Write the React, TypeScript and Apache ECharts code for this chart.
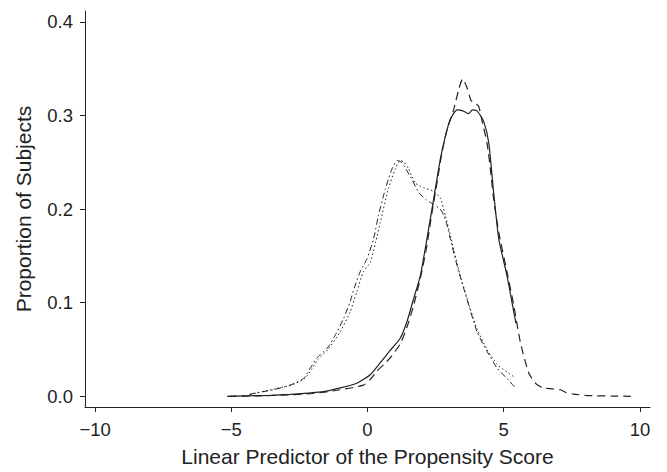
import React, { useEffect, useRef } from "react";
import * as echarts from "echarts";

const xTicks = [-10, -5, 0, 5, 10];
const yTicks = [0, 0.1, 0.2, 0.3, 0.4];

const solidCurve: number[][] = [
  [-5.15, 0.0], [-4.5, 0.0005], [-3.5, 0.001], [-2.84, 0.002], [-2.2, 0.0035], [-1.62, 0.005],
  [-1.0, 0.009], [-0.39, 0.014], [0.1, 0.023], [0.47, 0.036], [0.83, 0.049], [1.2, 0.062],
  [1.45, 0.08], [1.69, 0.104], [1.94, 0.129], [2.18, 0.168], [2.43, 0.211], [2.67, 0.253],
  [2.86, 0.278], [3.04, 0.296], [3.29, 0.306], [3.5, 0.305], [3.71, 0.302], [3.85, 0.306],
  [4.02, 0.305], [4.26, 0.294], [4.45, 0.271], [4.63, 0.218], [4.82, 0.168], [5.12, 0.129],
  [5.37, 0.09], [5.45, 0.078],
];

const dashedCurve: number[][] = [
  [-5.1, 0.0], [-4.0, 0.0005], [-3.0, 0.0015], [-2.0, 0.003], [-1.0, 0.007], [-0.15, 0.012],
  [0.1, 0.018], [0.35, 0.027], [0.6, 0.034], [0.83, 0.041], [1.2, 0.056], [1.45, 0.074],
  [1.69, 0.097], [1.94, 0.126], [2.18, 0.161], [2.37, 0.197], [2.55, 0.228], [2.73, 0.26],
  [2.92, 0.285], [3.16, 0.306], [3.35, 0.328], [3.49, 0.339], [3.65, 0.33], [3.8, 0.316],
  [3.95, 0.313], [4.08, 0.31], [4.2, 0.295], [4.39, 0.27], [4.51, 0.243], [4.63, 0.211],
  [4.82, 0.175], [5.12, 0.133], [5.37, 0.097], [5.61, 0.058], [5.92, 0.025], [6.2, 0.013],
  [6.47, 0.0088], [6.8, 0.008], [7.08, 0.007], [7.3, 0.004], [7.57, 0.0024], [8.0, 0.001],
  [8.43, 0.0005], [9.0, 0.0003], [9.66, 0.0],
];

const dashDotCurve: number[][] = [
  [-4.35, 0.002], [-4.13, 0.0035], [-3.46, 0.007], [-2.84, 0.012], [-2.35, 0.019], [-2.1, 0.03],
  [-1.86, 0.041], [-1.49, 0.051], [-1.19, 0.065], [-0.88, 0.083], [-0.64, 0.101], [-0.45, 0.119],
  [-0.27, 0.133], [-0.02, 0.147], [0.22, 0.168], [0.4, 0.193], [0.65, 0.221], [0.9, 0.243],
  [1.1, 0.252], [1.25, 0.25], [1.57, 0.235], [1.88, 0.218], [2.15, 0.21], [2.43, 0.205],
  [2.67, 0.2], [2.79, 0.194], [2.92, 0.183], [3.04, 0.168], [3.35, 0.133], [3.65, 0.104],
  [4.02, 0.069], [4.39, 0.048], [4.76, 0.03], [5.12, 0.019], [5.43, 0.009],
];

const dottedCurve: number[][] = [
  [-4.3, 0.002], [-4.0, 0.004], [-3.4, 0.008], [-2.8, 0.012], [-2.3, 0.019], [-2.05, 0.029],
  [-1.8, 0.04], [-1.45, 0.05], [-1.0, 0.069], [-0.64, 0.09], [-0.39, 0.112], [-0.15, 0.133],
  [0.1, 0.143], [0.3, 0.165], [0.47, 0.186], [0.77, 0.222], [1.02, 0.243], [1.2, 0.252],
  [1.35, 0.25], [1.51, 0.243], [1.75, 0.228], [2.06, 0.223], [2.43, 0.219], [2.67, 0.212],
  [2.86, 0.193], [3.04, 0.172], [3.35, 0.135], [3.65, 0.105], [4.02, 0.072], [4.39, 0.05],
  [4.76, 0.034], [5.12, 0.026], [5.37, 0.021],
];

const FONT = "'Liberation Sans', Arial, Helvetica, sans-serif";
const INK = "#222";

export default function App() {
  const ref = useRef<HTMLDivElement>(null);
  useEffect(() => {
    if (!ref.current) return;
    const chart = echarts.init(ref.current, undefined, { renderer: "svg" });
    const line = (data: number[][], type: any, width: number) => ({
      type: "line",
      data,
      showSymbol: false,
      smooth: 0.2,
      lineStyle: { color: INK, width, type },
    });
    chart.setOption({
      animation: false,
      backgroundColor: "#fff",
      grid: { left: 85, right: 17, top: 11, bottom: 63, containLabel: false },
      xAxis: {
        type: "value",
        min: -10.37,
        max: 10.37,
        name: "Linear Predictor of the Propensity Score",
        nameLocation: "middle",
        nameGap: 39,
        nameTextStyle: { fontFamily: FONT, fontSize: 21, color: INK },
        axisLine: { show: true, onZero: false, lineStyle: { color: INK, width: 1 } },
        axisTick: { show: true, length: 5, customValues: xTicks, lineStyle: { color: INK } },
        axisLabel: {
          customValues: xTicks,
          fontFamily: FONT,
          fontSize: 18.5,
          color: INK,
          margin: 13,
          formatter: (v: number) => (v < 0 ? "\u2212" + Math.abs(v) : String(v)),
        },
        splitLine: { show: false },
      },
      yAxis: {
        type: "value",
        min: -0.0114,
        max: 0.4117,
        name: "Proportion of Subjects",
        nameLocation: "middle",
        nameGap: 51,
        nameTextStyle: { fontFamily: FONT, fontSize: 21, color: INK },
        axisLine: { show: true, onZero: false, lineStyle: { color: INK, width: 1 } },
        axisTick: { show: true, length: 5, customValues: yTicks, lineStyle: { color: INK } },
        axisLabel: {
          customValues: yTicks,
          fontFamily: FONT,
          fontSize: 18.5,
          color: INK,
          margin: 12,
          formatter: (v: number) => v.toFixed(1),
        },
        splitLine: { show: false },
      },
      series: [
        line(solidCurve, "solid", 1.2),
        line(dashedCurve, [8, 5], 1.2),
        line(dashDotCurve, [6, 3, 1.5, 3], 1),
        line(dottedCurve, [1.5, 2.5], 1),
      ],
    });
    return () => chart.dispose();
  }, []);
  return (
    <div
      ref={ref}
      style={{ position: "fixed", left: 0, top: 0, width: 667, height: 472, background: "#fff" }}
    />
  );
}
